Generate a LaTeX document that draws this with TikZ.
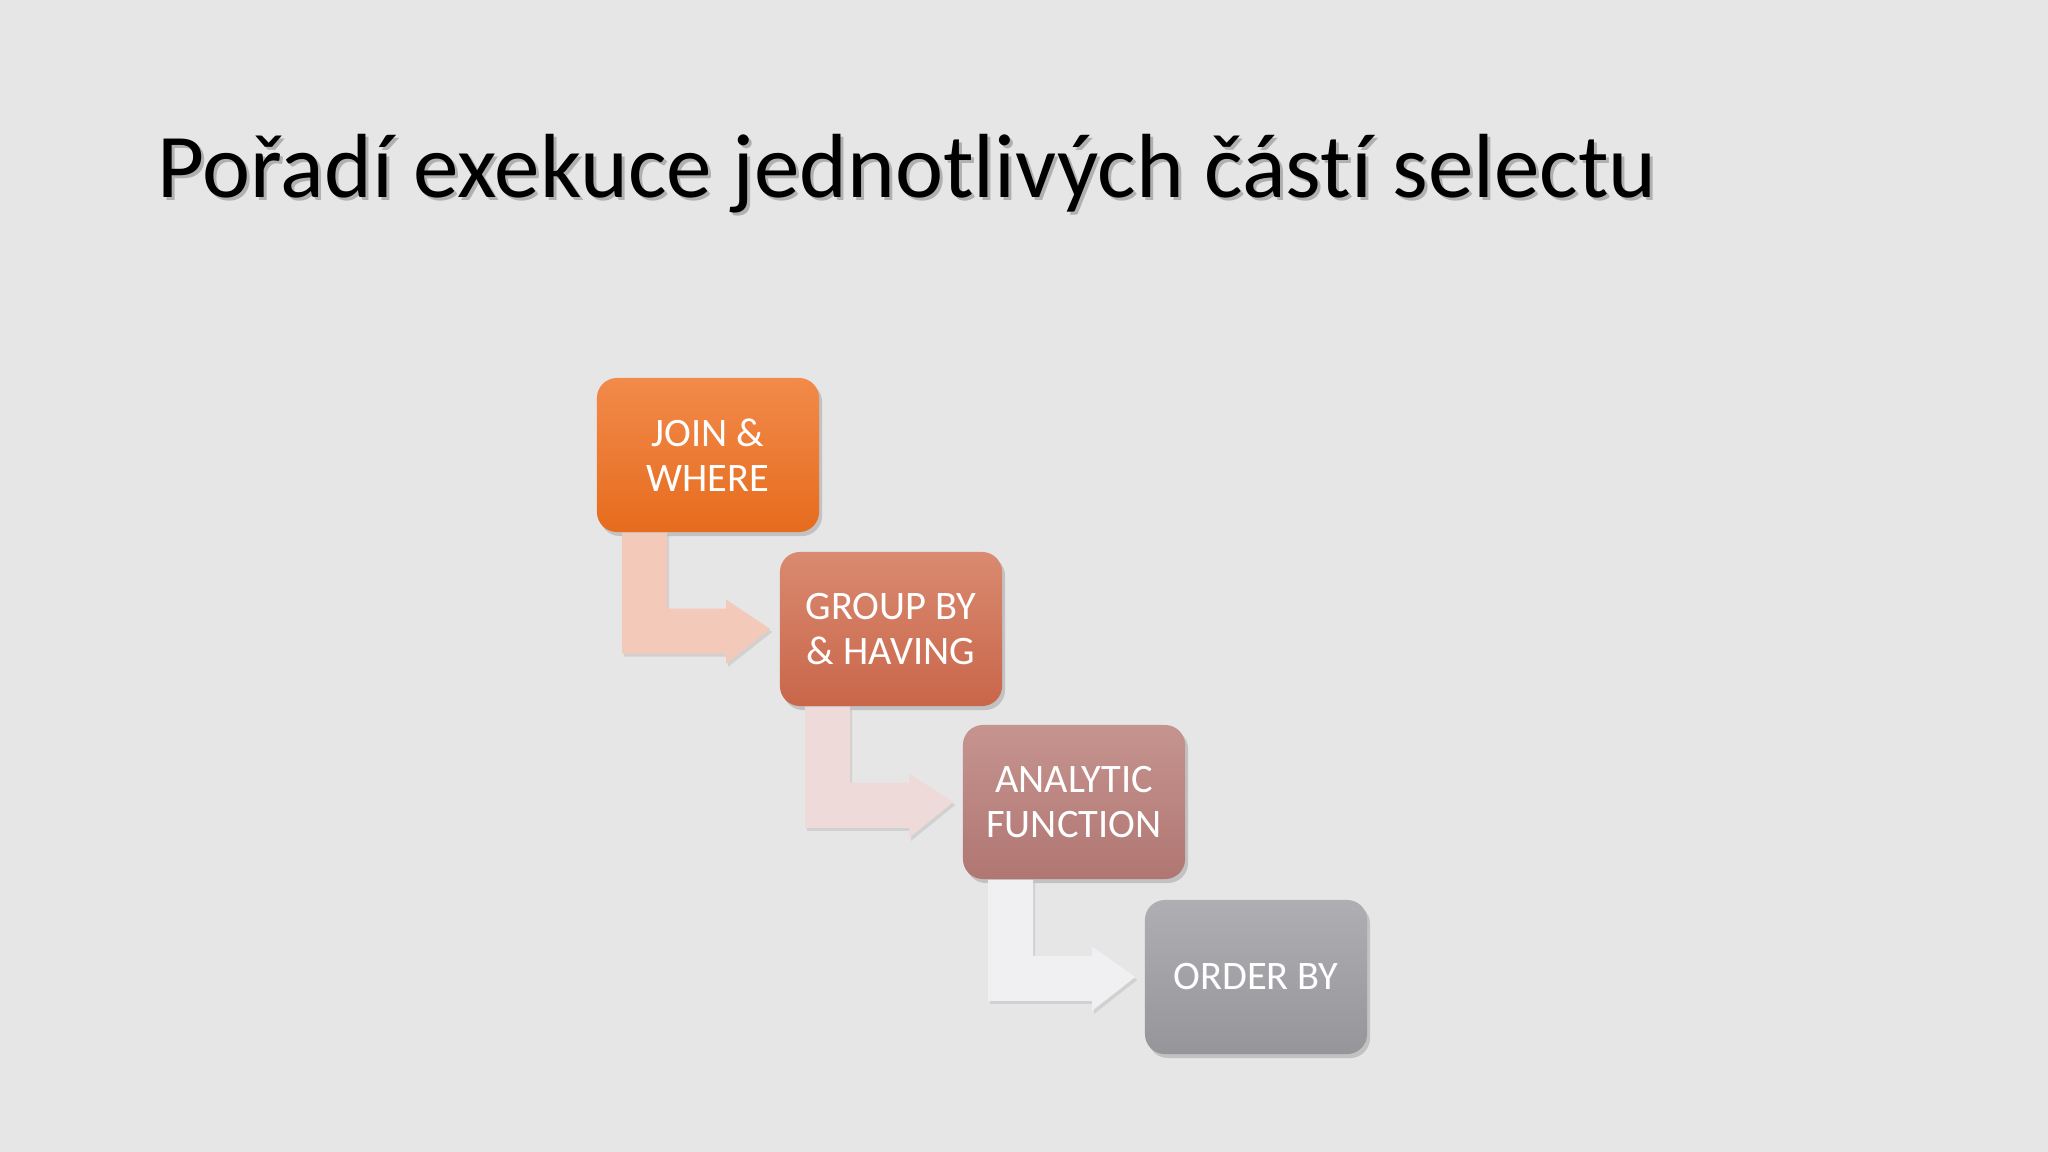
\documentclass[tikz,border=0pt]{standalone}
\usepackage{fontspec}
\setmainfont{Carlito}[Ligatures=NoCommon]
\usepackage{tikz}
\usetikzlibrary{calc, shadows}
\definecolor{pozadi}{HTML}{E6E6E7}
\definecolor{oranzA}{HTML}{F28A4A}
\definecolor{oranzB}{HTML}{E66C1E}
\definecolor{cihlaA}{HTML}{D98A70}
\definecolor{cihlaB}{HTML}{C9664A}
\definecolor{ruzA}{HTML}{C6948F}
\definecolor{ruzB}{HTML}{B07672}
\definecolor{sedA}{HTML}{AFAEB2}
\definecolor{sedB}{HTML}{96959A}
\definecolor{sipkaA}{HTML}{F3C9B9}
\definecolor{sipkaB}{HTML}{EFDADA}
\definecolor{sipkaC}{HTML}{F0F0F2}
\tikzset{krok/.style={rounded corners=0.2cm, minimum width=2.22cm, minimum height=1.54cm,
    text=white, align=center, font=\fontsize{11.5}{12.8}\selectfont,
    drop shadow={shadow xshift=0.03cm, shadow yshift=-0.04cm, opacity=0.35}},
  sipka/.style={drop shadow={shadow xshift=0.02cm, shadow yshift=-0.03cm, opacity=0.2}}}
\newcommand{\ohnutasipka}[3]{%
  \fill[#3, sipka] ($(#1.south west)+(26,0)$) -- ($(#1.south west)+(71,0)$)
    -- ($(#1.south west)+(71,76)$) -- ($(#1.south west)+(130,76)$)
    -- ($(#1.south west)+(130,67)$) -- ($(#2.west)+(-9,0)$)
    -- ($(#1.south west)+(130,131)$) -- ($(#1.south west)+(130,121)$)
    -- ($(#1.south west)+(26,121)$) -- cycle;}
\begin{document}
\begin{tikzpicture}[x=0.01cm, y=-0.01cm]
  \fill[pozadi] (0,0) rectangle (2048,1152);
  \useasboundingbox (0,0) rectangle (2048,1152);

  % nadpis
  \node[anchor=base west, inner sep=0, text=black!45, opacity=0.6, font=\fontsize{25.9}{30}\selectfont] at (160,201) {Pořadí exekuce jednotlivých částí selectu};
  \node (nadpis) [anchor=base west, inner sep=0, font=\fontsize{25.9}{30}\selectfont] at (157,198) {Pořadí exekuce jednotlivých částí selectu};

  % kroky
  \node (join) [krok, top color=oranzA, bottom color=oranzB] at (708,455) {JOIN \&\\WHERE};
  \node (group) [krok, top color=cihlaA, bottom color=cihlaB] at (891,629) {GROUP BY\\\& HAVING};
  \node (analytic) [krok, top color=ruzA, bottom color=ruzB] at (1074,802) {ANALYTIC\\FUNCTION};
  \node (order) [krok, top color=sedA, bottom color=sedB] at (1256,977) {ORDER BY};

  % sipky
  \ohnutasipka{join}{group}{sipkaA}
  \ohnutasipka{group}{analytic}{sipkaB}
  \ohnutasipka{analytic}{order}{sipkaC}
\end{tikzpicture}
\end{document}
